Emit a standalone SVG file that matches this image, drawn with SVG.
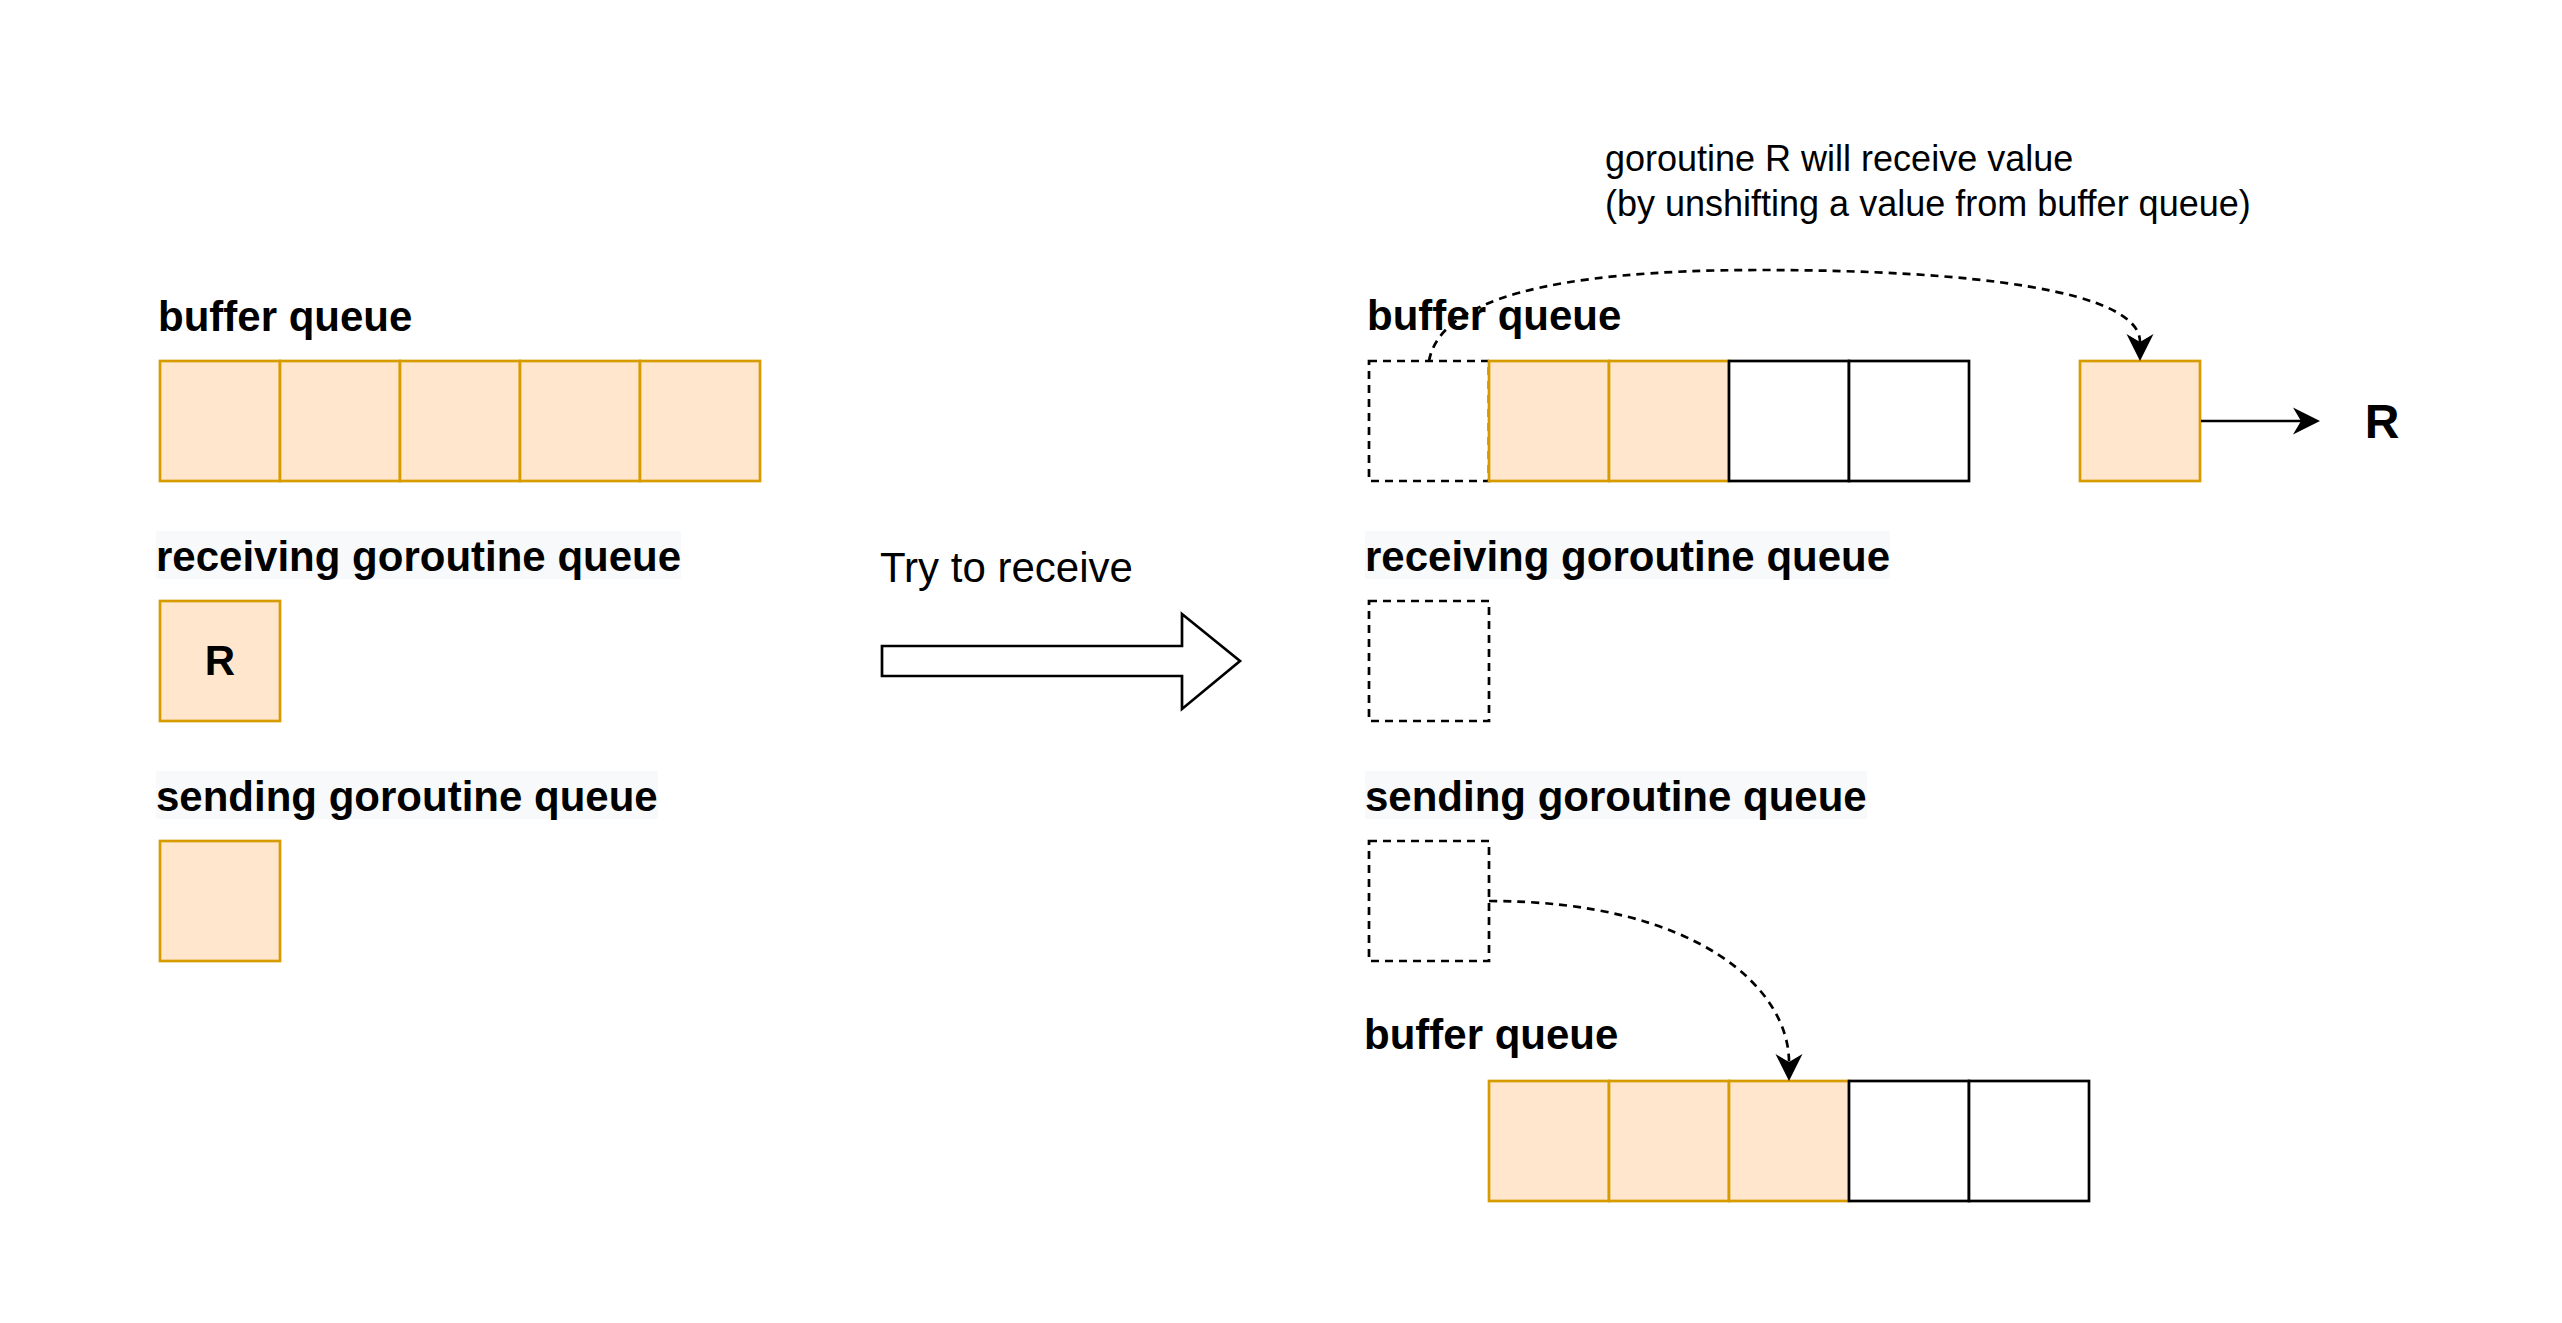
<svg xmlns="http://www.w3.org/2000/svg" width="2562" height="1323" viewBox="0 0 2562 1323">
<style>
.cell{fill:#ffe6cc;stroke:#d79b00;stroke-width:2.7}
.empty{fill:#ffffff;stroke:#000000;stroke-width:2.7}
.ghost{fill:none;stroke:#000000;stroke-width:2.7;stroke-dasharray:8 6}
.lbl{font-family:"Liberation Sans",Arial,Helvetica,sans-serif;font-weight:bold;font-size:42px;fill:#000}
.lblbg{fill:#f8f9fa}
.txt{font-family:"Liberation Sans",Arial,Helvetica,sans-serif;fill:#000}
.edge{fill:none;stroke:#000;stroke-width:2.7}
.dash{stroke-dasharray:8 6}
</style>
<defs>
<marker id="arr" markerUnits="userSpaceOnUse" markerWidth="32" markerHeight="30" viewBox="-10 -15 32 30" refX="0" refY="0" orient="auto">
<path d="M19,0 L-8,-13.5 L0,0 L-8,13.5 Z" fill="#000"/>
</marker>
</defs>
<rect width="2562" height="1323" fill="#ffffff"/>

<!-- LEFT SIDE -->
<g id="left-buffer-label"><text class="lbl" x="158" y="331">buffer queue</text></g>
<g id="left-buffer">
<rect class="cell" x="160" y="361" width="120" height="120"/>
<rect class="cell" x="280" y="361" width="120" height="120"/>
<rect class="cell" x="400" y="361" width="120" height="120"/>
<rect class="cell" x="520" y="361" width="120" height="120"/>
<rect class="cell" x="640" y="361" width="120" height="120"/>
</g>
<g id="left-recv-label"><rect class="lblbg" x="156" y="531" width="525" height="48"/><text class="lbl" x="156" y="571">receiving goroutine queue</text></g>
<g id="left-recv-R"><rect class="cell" x="160" y="601" width="120" height="120"/><text class="lbl" x="220" y="675" text-anchor="middle">R</text></g>
<g id="left-send-label"><rect class="lblbg" x="156" y="771" width="502" height="48"/><text class="lbl" x="156" y="811">sending goroutine queue</text></g>
<g id="left-send-box"><rect class="cell" x="160" y="841" width="120" height="120"/></g>

<!-- MIDDLE -->
<g id="try-label"><text class="txt" x="880" y="582" font-size="42">Try to receive</text></g>
<g id="big-arrow"><path d="M882,646 L1182,646 L1182,614 L1240,661 L1182,709 L1182,676 L882,676 Z" fill="#fff" stroke="#000" stroke-width="2.7" stroke-linejoin="miter"/></g>

<!-- RIGHT SIDE -->
<g id="note"><text class="txt" font-size="36"><tspan x="1605" y="171">goroutine R will receive value</tspan><tspan x="1605" y="216">(by unshifting a value from buffer queue)</tspan></text></g>
<g id="right-buffer-label"><text class="lbl" x="1367" y="330">buffer queue</text></g>
<g id="right-buffer">
<rect class="ghost" x="1369" y="361" width="120" height="120"/>
<rect class="cell" x="1489" y="361" width="120" height="120"/>
<rect class="cell" x="1609" y="361" width="120" height="120"/>
<rect class="empty" x="1729" y="361" width="120" height="120"/>
<rect class="empty" x="1849" y="361" width="120" height="120"/>
</g>
<g id="value-box"><rect class="cell" x="2080" y="361" width="120" height="120"/></g>
<g id="R-target"><text class="lbl" x="2382" y="438" text-anchor="middle" style="font-size:48px">R</text></g>
<g id="right-recv-label"><rect class="lblbg" x="1365" y="531" width="525" height="48"/><text class="lbl" x="1365" y="571">receiving goroutine queue</text></g>
<g id="right-recv-box"><rect class="ghost" x="1369" y="601" width="120" height="120"/></g>
<g id="right-send-label"><rect class="lblbg" x="1365" y="771" width="502" height="48"/><text class="lbl" x="1365" y="811">sending goroutine queue</text></g>
<g id="right-send-box"><rect class="ghost" x="1369" y="841" width="120" height="120"/></g>
<g id="bottom-buffer-label"><text class="lbl" x="1364" y="1049">buffer queue</text></g>
<g id="bottom-buffer">
<rect class="cell" x="1489" y="1081" width="120" height="120"/>
<rect class="cell" x="1609" y="1081" width="120" height="120"/>
<rect class="cell" x="1729" y="1081" width="120" height="120"/>
<rect class="empty" x="1849" y="1081" width="120" height="120"/>
<rect class="empty" x="1969" y="1081" width="120" height="120"/>
</g>

<g id="connectors">
<path class="edge dash" d="M1429,361 C1440,300 1550,270 1760,270 S2140,290 2140,342" marker-end="url(#arr)"/>
<path class="edge" d="M2201,421 L2301,421" marker-end="url(#arr)"/>
<path class="edge dash" d="M1489,901 C1700,901 1789,990 1789,1062" marker-end="url(#arr)"/>
</g>
</svg>
